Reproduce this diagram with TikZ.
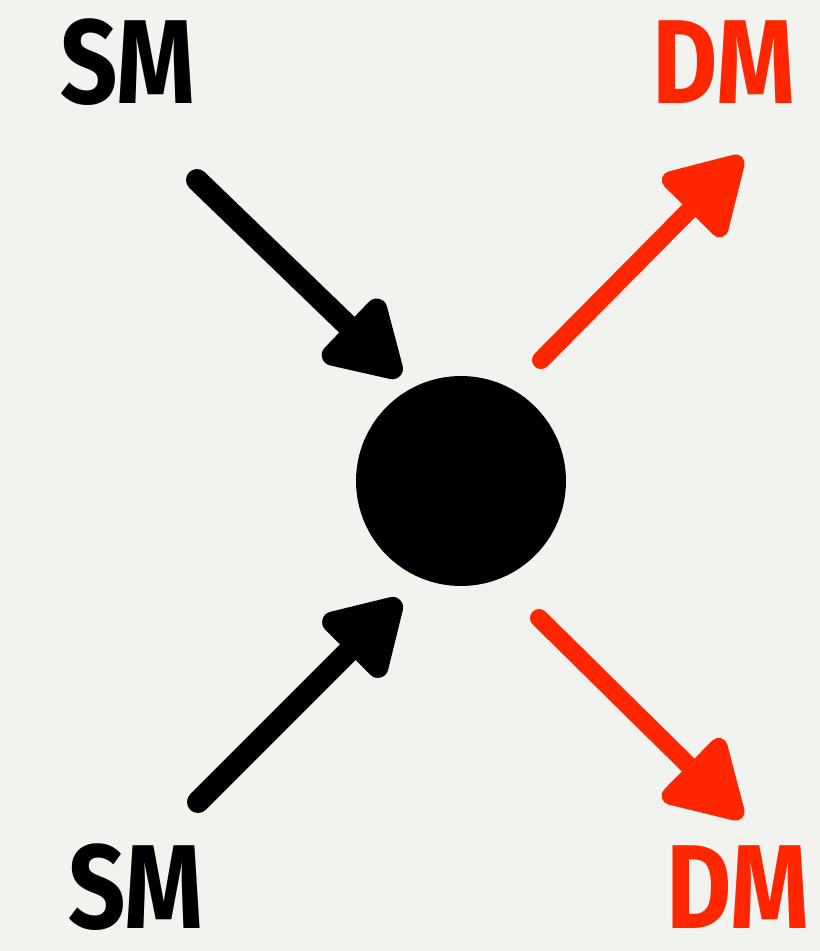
\documentclass[tikz,border=0pt]{standalone}
\usepackage{fontspec}
\usepackage{graphicx}
\setmainfont{Fira Sans}
\usetikzlibrary{arrows.meta, positioning}
\definecolor{paper}{RGB}{242,242,238}
\definecolor{dmred}{RGB}{255,38,0}
\tikzset{
  label/.style={font=\fontsize{68}{68}\selectfont\bfseries, inner sep=0pt, anchor=base west},
  smlabel/.style={label, text=black},
  dmlabel/.style={label, text=dmred},
  blob/.style={circle, fill=black, minimum size=4.2cm, inner sep=0pt},
  inarrow/.style={-{Triangle[length=1.7cm, width=1.9cm, round]}, line width=0.44cm, line cap=round, black},
  outarrow/.style={-{Triangle[length=1.7cm, width=1.9cm, round]}, line width=0.36cm, line cap=round, dmred}
}
\newcommand{\narrow}[1]{\scalebox{0.84}[1]{#1}}

\begin{document}
\begin{tikzpicture}[x=0.02cm, y=-0.02cm]
    \fill[paper] (0,0) rectangle (820,951);
    \useasboundingbox (0,0) rectangle (820,951);

    \node[blob] (vertex) at (461,481) {};

    \node[smlabel] (smtop) at (60,103) {\narrow{SM}};
    \node[dmlabel] (dmtop) at (652,103) {\narrow{DM}};
    \node[smlabel] (smbot) at (68,928) {\narrow{SM}};
    \node[dmlabel] (dmbot) at (666,928) {\narrow{DM}};

    % incoming standard model legs
    \coordinate (inA) at (197,180);
    \coordinate (tipA) at (400,376);
    \coordinate (inB) at (198,802);
    \coordinate (tipB) at (400,600);
    % outgoing dark matter legs
    \coordinate (outA) at (541,360);
    \coordinate (tipC) at (742,157);
    \coordinate (outB) at (539,618);
    \coordinate (tipD) at (742,818);

    \draw[inarrow] (inA) -- (tipA);
    \draw[inarrow] (inB) -- (tipB);
    \draw[outarrow] (outA) -- (tipC);
    \draw[outarrow] (outB) -- (tipD);
\end{tikzpicture}
\end{document}
